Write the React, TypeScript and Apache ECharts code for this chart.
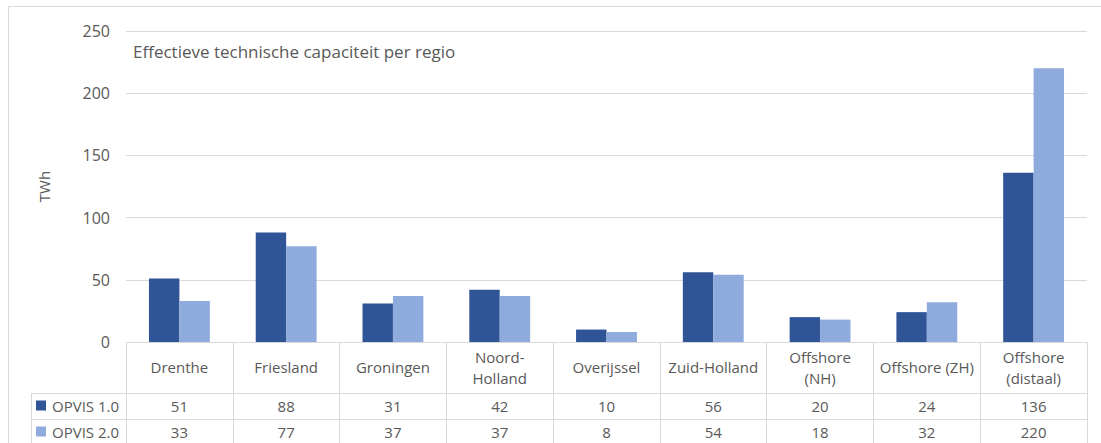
import React, { useEffect, useRef } from "react";
import * as echarts from "echarts";

const categories = [
  "Drenthe",
  "Friesland",
  "Groningen",
  "Noord-\nHolland",
  "Overijssel",
  "Zuid-Holland",
  "Offshore\n(NH)",
  "Offshore (ZH)",
  "Offshore\n(distaal)",
];
const seriesNames = ["OPVIS 1.0", "OPVIS 2.0"];
const opvis1 = [51, 88, 31, 42, 10, 56, 20, 24, 136];
const opvis2 = [33, 77, 37, 37, 8, 54, 18, 32, 220];
const colors = ["#2F5597", "#8FAADC"];
const titleText = "Effectieve technische capaciteit per regio";
const yName = "TWh";

const FONT = "'Open Sans', 'Noto Sans', sans-serif";
const GRAY = "#595959";
const LINE = "#D9D9D9";

export default function App() {
  const ref = useRef<HTMLDivElement>(null);
  useEffect(() => {
    if (!ref.current) return;
    const chart = echarts.init(ref.current, undefined, { renderer: "svg" });
    const tableAxis = (vals: number[] | null, offset: number, tick: number, margin: number) => ({
      type: "category",
      gridIndex: 0,
      position: "bottom",
      offset,
      data: categories,
      boundaryGap: true,
      axisLine: { show: true, lineStyle: { color: LINE, width: 1 } },
      axisTick: { show: true, interval: 0, length: tick, lineStyle: { color: LINE, width: 1 } },
      axisLabel: {
        show: true,
        interval: 0,
        margin,
        verticalAlign: "middle",
        lineHeight: 21,
        color: GRAY,
        fontSize: 15,
        fontFamily: FONT,
        formatter: vals ? (_v: string, i: number) => String(vals[i]) : undefined,
      },
      splitLine: { show: false },
    });
    const legendItem = (name: string, top: number) => ({
      left: 36,
      top,
      itemWidth: 10,
      itemHeight: 10,
      icon: "rect",
      padding: 0,
      data: [name],
      textStyle: { color: GRAY, fontSize: 15, fontFamily: FONT, padding: [0, 0, 0, 1] },
    });
    chart.setOption({
      animation: false,
      backgroundColor: "#ffffff",
      textStyle: { fontFamily: FONT },
      grid: { left: 126, right: 14, top: 31, bottom: 101, containLabel: false },
      title: {
        text: titleText,
        left: 128,
        top: 38,
        textStyle: { color: GRAY, fontSize: 17, fontWeight: "normal", fontFamily: FONT },
      },
      legend: [legendItem(seriesNames[0], 398), legendItem(seriesNames[1], 424)],
      xAxis: [
        tableAxis(null, 0, 51, 25),
        tableAxis(opvis1, 51, 26, 13),
        tableAxis(opvis2, 77, 26, 13),
      ],
      yAxis: {
        type: "value",
        min: 0,
        max: 250,
        interval: 50,
        name: yName,
        nameLocation: "middle",
        nameRotate: 90,
        nameGap: 75,
        nameTextStyle: { color: GRAY, fontSize: 15, fontFamily: FONT },
        axisLine: { show: false },
        axisTick: { show: false },
        axisLabel: { color: GRAY, fontSize: 16, margin: 16, fontFamily: FONT },
        splitLine: { lineStyle: { color: LINE, width: 1 } },
      },
      series: [
        {
          name: seriesNames[0],
          type: "bar",
          xAxisIndex: 0,
          data: opvis1,
          itemStyle: { color: colors[0] },
          barGap: "0%",
          barCategoryGap: "43%",
        },
        {
          name: seriesNames[1],
          type: "bar",
          xAxisIndex: 0,
          data: opvis2,
          itemStyle: { color: colors[1] },
          barGap: "0%",
          barCategoryGap: "43%",
        },
      ],
      graphic: [
        { type: "line", shape: { x1: 8, y1: 6.5, x2: 1101, y2: 6.5 }, style: { stroke: LINE, lineWidth: 1 }, silent: true },
        { type: "line", shape: { x1: 8.5, y1: 6, x2: 8.5, y2: 443 }, style: { stroke: LINE, lineWidth: 1 }, silent: true },
        { type: "line", shape: { x1: 31.5, y1: 393, x2: 31.5, y2: 443 }, style: { stroke: LINE, lineWidth: 1 }, silent: true },
        { type: "line", shape: { x1: 31, y1: 393.5, x2: 126, y2: 393.5 }, style: { stroke: LINE, lineWidth: 1 }, silent: true },
        { type: "line", shape: { x1: 31, y1: 419.5, x2: 126, y2: 419.5 }, style: { stroke: LINE, lineWidth: 1 }, silent: true },
      ],
    });
    return () => chart.dispose();
  }, []);
  return (
    <div
      ref={ref}
      style={{ position: "absolute", left: 0, top: 0, width: 1101, height: 443, background: "#fff" }}
    />
  );
}
